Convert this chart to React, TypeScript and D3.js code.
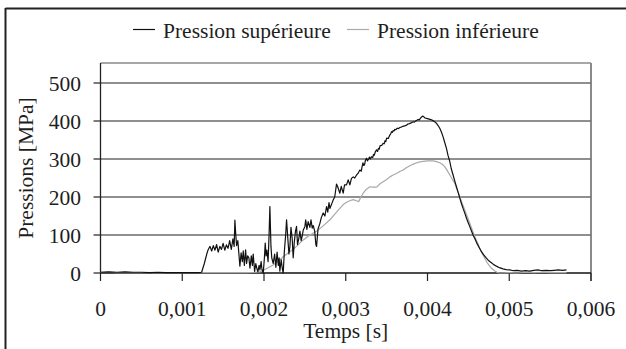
import React from "react";
import * as d3 from "d3";

// ---- data (time in ms, pressure in MPa) ----
const supTimeMs = [
  0, 0.1, 0.2, 0.3, 0.4, 0.5, 0.6, 0.7, 0.8, 0.9, 1.0, 1.1, 1.2, 1.237, 1.27, 1.3, 1.318, 1.34, 1.36, 1.38,
  1.4, 1.42, 1.44, 1.46, 1.48, 1.5, 1.52, 1.54, 1.56, 1.58, 1.6, 1.62, 1.635, 1.644, 1.655, 1.665, 1.68, 1.705,
  1.72, 1.735, 1.746, 1.76, 1.775, 1.787, 1.8, 1.815, 1.828, 1.845, 1.858, 1.868, 1.885, 1.9, 1.909, 1.925,
  1.94, 1.95, 1.965, 1.975, 1.991, 2.005, 2.015, 2.025, 2.035, 2.05, 2.062, 2.072, 2.085, 2.095, 2.113, 2.13,
  2.145, 2.16, 2.175, 2.185, 2.194, 2.21, 2.225, 2.235, 2.25, 2.265, 2.276, 2.29, 2.305, 2.317, 2.33, 2.345,
  2.357, 2.37, 2.385, 2.398, 2.41, 2.425, 2.439, 2.455, 2.47, 2.48, 2.5, 2.51, 2.525, 2.54, 2.561, 2.575, 2.59,
  2.602, 2.62, 2.635, 2.643, 2.66, 2.683, 2.7, 2.724, 2.745, 2.765, 2.78, 2.795, 2.806, 2.825, 2.846, 2.865,
  2.887, 2.905, 2.928, 2.945, 2.969, 2.985, 3.009, 3.03, 3.05, 3.07, 3.091, 3.11, 3.132, 3.15, 3.172, 3.19,
  3.2, 3.21, 3.22, 3.23, 3.24, 3.254, 3.265, 3.28, 3.29, 3.3, 3.315, 3.33, 3.34, 3.35, 3.36, 3.377, 3.39, 3.4,
  3.41, 3.42, 3.44, 3.457, 3.47, 3.48, 3.49, 3.5, 3.52, 3.539, 3.55, 3.56, 3.57, 3.58, 3.59, 3.6, 3.615, 3.63,
  3.645, 3.661, 3.68, 3.7, 3.72, 3.743, 3.76, 3.78, 3.8, 3.824, 3.84, 3.86, 3.87, 3.885, 3.9, 3.91, 3.925,
  3.939, 3.955, 3.97, 3.988, 4.02, 4.049, 4.08,
  4.11, 4.13, 4.15, 4.17, 4.19, 4.21, 4.232, 4.25, 4.273, 4.29, 4.313, 4.334, 4.354, 4.375, 4.395, 4.415,
  4.435, 4.457, 4.477, 4.497, 4.517, 4.537, 4.557, 4.58, 4.6, 4.63, 4.66, 4.69, 4.721, 4.75, 4.782, 4.81, 4.843,
  4.88, 4.924, 4.96, 5.006, 5.05, 5.1, 5.15, 5.2, 5.25, 5.3, 5.35, 5.4, 5.45, 5.5, 5.55, 5.6, 5.65, 5.7,
];
const supPressure = [
  2, 3, 2, 3, 2, 2, 1, 2, 1, 1, 1, 1, 1, 2, 25, 50, 62, 70, 58, 72,
  60, 75, 55, 70, 62, 78, 60, 74, 65, 85, 62, 90, 70, 139, 100, 72, 85, 18,
  53, 30, 58, 20, 61, 25, 45, 40, 13, 45, 20, 50, 4, 25, 15, 3,
  20, 8, 30, 10, 0, 40, 79, 45, 60, 30, 100, 175, 70, 40, 25, 50,
  15, 55, 20, 40, 5, 35, 10, 0, 60, 100, 140, 95, 50, 70, 120, 90,
  40, 80, 110, 123, 75, 90, 110, 85, 100, 113, 122, 140, 115, 135, 120, 140, 118,
  125, 110, 74, 70, 115, 130, 145, 158, 150, 175, 160, 185, 170, 180, 192, 200,
  234, 225, 210, 228, 210, 232, 232, 245, 232, 249, 253, 250, 258, 262, 271, 268,
  280, 290, 283, 285, 296, 302, 295, 300, 305, 300, 306, 304, 312, 310, 318, 324, 320, 328,
  326, 335, 336, 341, 340, 348, 346, 355, 354, 363, 366, 372, 370, 375, 374, 378, 377, 381,
  380, 383, 384, 386, 387, 389, 392, 393, 395, 398, 397, 401, 402, 404, 403, 406, 410,
  413, 411, 408, 407, 405, 403, 399,
  394, 388, 381, 371, 359, 344, 328, 310, 293, 275, 258, 242, 227, 212, 197, 183,
  170, 157, 144, 133, 122, 111, 100, 90, 80, 68, 56, 47, 39, 32, 27, 22, 18,
  14, 11, 9, 8, 6, 7, 5, 6, 5, 7, 8, 6, 7, 6, 7, 8, 7, 8,
];

const infTimeMs = [
  0, 0.1, 0.2, 0.4, 0.6, 0.8, 1.0, 1.2, 1.4, 1.6, 1.8, 1.9, 1.95, 2.0, 2.05, 2.113, 2.17, 2.235, 2.317,
  2.398, 2.48, 2.561, 2.643, 2.724, 2.806, 2.887, 2.969, 3.01, 3.05, 3.091, 3.13, 3.16, 3.18, 3.213, 3.25,
  3.295, 3.33, 3.377, 3.42, 3.457, 3.5, 3.539, 3.58, 3.621, 3.66, 3.702, 3.74, 3.784, 3.82, 3.866, 3.9,
  3.946, 4.0, 4.068, 4.11, 4.15, 4.18, 4.211, 4.24, 4.273, 4.3, 4.334, 4.36, 4.395, 4.425, 4.456, 4.487,
  4.517, 4.548, 4.578, 4.61, 4.639, 4.67, 4.7, 4.73, 4.76, 4.79, 4.82, 4.85, 4.884, 5.0, 5.1, 5.2, 5.3,
  5.4, 5.5, 5.6, 5.7,
];
const infPressure = [
  2, 2, 1, 1, 1, 1, 1, 1, 1, 1, 1, 2, 3, 8, 14, 21, 30, 43, 56,
  70, 87, 100, 110, 124, 140, 160, 180, 186, 190, 193, 190, 188, 198, 210, 220,
  227, 226, 226, 235, 240, 246, 253, 258, 262, 267, 271, 277, 282, 286, 290, 292,
  294, 295, 295, 293, 290, 286, 280, 270, 258, 248, 236, 220, 201, 183, 166, 148,
  131, 113, 96, 80, 65, 51, 39, 27, 18, 11, 6, 2, 0, 1, 0, 2, 1,
  2, 1, 1, 1,
];

const xTicks = [0, 0.001, 0.002, 0.003, 0.004, 0.005, 0.006];
const xTickLabels = ["0", "0,001", "0,002", "0,003", "0,004", "0,005", "0,006"];
const yTicks = [0, 100, 200, 300, 400, 500];
const seriesNames = ["Pression supérieure", "Pression inférieure"];

const FONT = '"Liberation Serif", "Times New Roman", serif';

export default function App() {
  const W = 626;
  const H = 349;
  const left = 100.5;
  const right = 591;
  const top = 63;
  const bottom = 273;

  const x = d3.scaleLinear().domain([0, 0.006]).range([left, right]);
  const y = d3.scaleLinear().domain([0, 500]).range([bottom, 83]);

  const line = d3
    .line<[number, number]>()
    .x((d) => x(d[0]))
    .y((d) => y(d[1]));

  const sup: [number, number][] = supTimeMs.map((t, i) => [t / 1000, supPressure[i]]);
  const inf: [number, number][] = infTimeMs.map((t, i) => [t / 1000, infPressure[i]]);

  const textColor = "#1e1e1e";

  return (
    <svg
      width={W}
      height={H}
      style={{ position: "absolute", left: 0, top: 0, background: "#fff" }}
      fontFamily={FONT}
    >
      <rect x={0} y={0} width={W} height={H} fill="#fff" />
      {/* outer chart border (cropped) */}
      <line x1={5.5} x2={W} y1={8.5} y2={8.5} stroke="#222" strokeWidth={2} />
      <line x1={5.5} x2={5.5} y1={8} y2={H} stroke="#222" strokeWidth={2} />

      {/* legend */}
      <line x1={133} x2={155} y1={29.5} y2={29.5} stroke="#111" strokeWidth={1.2} />
      <text x={163} y={38} fontSize={21.5} fill={textColor}>
        {seriesNames[0]}
      </text>
      <line x1={347} x2={369} y1={29.5} y2={29.5} stroke="#aaa" strokeWidth={1.2} />
      <text x={377} y={38} fontSize={21.5} fill={textColor}>
        {seriesNames[1]}
      </text>

      {/* plot area box: top and right */}
      <line x1={left} x2={right} y1={top} y2={top} stroke="#8a8a8a" strokeWidth={1.5} />
      <line x1={right} x2={right} y1={top} y2={bottom + 8} stroke="#8a8a8a" strokeWidth={2} />

      {/* gridlines */}
      {yTicks
        .filter((v) => v > 0)
        .map((v) => (
          <line key={v} x1={left} x2={right} y1={y(v)} y2={y(v)} stroke="#6a6a6a" strokeWidth={1.5} />
        ))}

      {/* y axis */}
      <line x1={left} x2={left} y1={top} y2={bottom} stroke="#222" strokeWidth={1.3} />
      {yTicks.map((v) => (
        <g key={v}>
          <line x1={left - 7} x2={left} y1={y(v)} y2={y(v)} stroke="#222" strokeWidth={1.2} />
          <text x={81} y={y(v)} dy="0.36em" textAnchor="end" fontSize={21.5} fill={textColor}>
            {v}
          </text>
        </g>
      ))}

      {/* x axis */}
      <line x1={left} x2={right} y1={bottom} y2={bottom} stroke="#111" strokeWidth={1.4} />
      {xTicks.map((t, i) => (
        <g key={t}>
          <line x1={x(t)} x2={x(t)} y1={bottom} y2={bottom + 8} stroke="#222" strokeWidth={1.2} />
          <text x={x(t)} y={316} textAnchor="middle" fontSize={21.5} fill={textColor}>
            {xTickLabels[i]}
          </text>
        </g>
      ))}

      {/* series */}
      <path d={line(inf) ?? ""} fill="none" stroke="#a8a8a8" strokeWidth={1.2} strokeLinejoin="round" />
      <path d={line(sup) ?? ""} fill="none" stroke="#111" strokeWidth={1.2} strokeLinejoin="round" />

      {/* axis titles */}
      <text x={(left + right) / 2} y={338} textAnchor="middle" fontSize={21.5} fill={textColor}>
        Temps [s]
      </text>
      <text
        transform={`translate(33, ${(top + bottom) / 2}) rotate(-90)`}
        textAnchor="middle"
        fontSize={21.5}
        fill={textColor}
      >
        Pressions [MPa]
      </text>
    </svg>
  );
}
